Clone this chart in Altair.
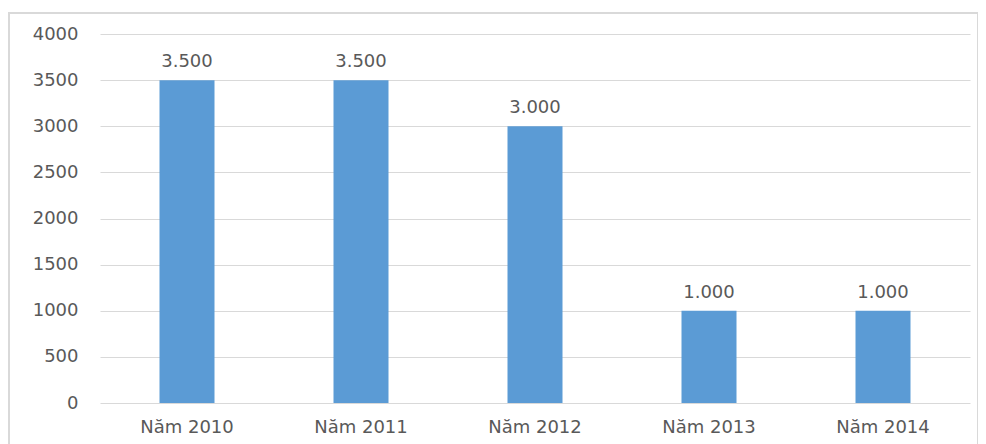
import altair as alt
import pandas as pd

years = ["Năm 2010", "Năm 2011", "Năm 2012", "Năm 2013", "Năm 2014"]
values = [3500, 3500, 3000, 1000, 1000]

df = pd.DataFrame({"year": years, "value": values})

FONT = "DejaVu Sans"
GREY = "#595959"
FS = 18

base = alt.Chart(df).encode(
    x=alt.X("year:N", sort=years, title=None,
            scale=alt.Scale(paddingInner=0, paddingOuter=0),
            axis=alt.Axis(labelAngle=0, labelFont=FONT, labelFontSize=FS,
                          labelColor=GREY, ticks=False, domain=False,
                          labelPadding=15)),
)

bars = base.mark_bar(color="#5B9BD5", size=55).encode(
    y=alt.Y("value:Q", title=None,
            scale=alt.Scale(domain=[0, 4000]),
            axis=alt.Axis(values=list(range(0, 4001, 500)), format="d",
                          labelFont=FONT, labelFontSize=FS, labelColor=GREY,
                          ticks=False, domain=False, gridColor="#d9d9d9",
                          gridWidth=1, labelPadding=22)),
)

labels = base.transform_calculate(
    lab="replace(format(datum.value, ','), ',', '.')"
).mark_text(font=FONT, fontSize=FS, color=GREY, baseline="bottom", dy=-9).encode(
    y="value:Q", text="lab:N"
)

frame = alt.Chart(df.head(1)).mark_rect(
    fill=None, stroke="#d9d9d9", strokeWidth=2, clip=False
).encode(
    x=alt.value(-91), x2=alt.value(878), y=alt.value(-21), y2=alt.value(460)
)

chart = alt.layer(bars, labels, frame).properties(
    width=870, height=369,
    autosize=alt.AutoSizeParams(type="none"),
    padding={"left": 92, "top": 26, "right": 8, "bottom": 49},
).configure_view(stroke=None)

chart.save("out.html", embed_options={"renderer": "svg", "actions": False})
